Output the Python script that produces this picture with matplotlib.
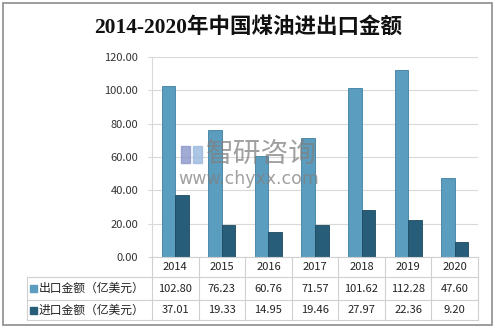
import matplotlib.pyplot as plt
import numpy as np
from matplotlib.patches import Rectangle
from matplotlib.lines import Line2D

plt.rcParams['font.family'] = ['Noto Sans CJK SC', 'DejaVu Sans']

years = ["2014", "2015", "2016", "2017", "2018", "2019", "2020"]
export_vals = [102.80, 76.23, 60.76, 71.57, 101.62, 112.28, 47.60]
import_vals = [37.01, 19.33, 14.95, 19.46, 27.97, 22.36, 9.20]
series_names = ["出口金额（亿美元）", "进口金额（亿美元）"]
y_ticks = [0, 20, 40, 60, 80, 100, 120]

title = "2014-2020年中国煤油进出口金额"
c_export = "#5a9dbf"
c_import = "#275d78"
grid_c = "#d9d9d9"

W, H = 496, 331
fig = plt.figure(figsize=(W / 100, H / 100), dpi=100)

# plot area in pixels
px0, px1, py0, py1 = 152, 478, 57, 257
ax = fig.add_axes([px0 / W, 1 - py1 / H, (px1 - px0) / W, (py1 - py0) / H])
x = np.arange(len(years))
bw = 0.29
ax.bar(x - bw / 2, export_vals, width=bw, color=c_export, edgecolor="#3f7f9f", linewidth=0.6, zorder=3)
ax.bar(x + bw / 2, import_vals, width=bw, color=c_import, edgecolor="#1c4a60", linewidth=0.6, zorder=3)
ax.set_xlim(-0.5, len(years) - 0.5)
ax.set_ylim(0, 120)
ax.set_yticks(y_ticks)
ax.set_yticklabels([f"{v:.2f}" for v in y_ticks], fontsize=8, color="#333333")
ax.set_xticks([])
ax.tick_params(axis="y", length=3, color=grid_c, pad=7)
ax.grid(axis="y", color=grid_c, linewidth=0.8, zorder=0)
for s in ["top", "right", "bottom"]:
    ax.spines[s].set_visible(False)
ax.spines["left"].set_color(grid_c)

# overlay in pixel coordinates for table, border, title, watermark
ov = fig.add_axes([0, 0, 1, 1], zorder=5)
ov.set_xlim(0, W)
ov.set_ylim(H, 0)
ov.axis("off")
ov.patch.set_alpha(0)

ov.add_patch(Rectangle((3, 3), 489, 322, fill=False, edgecolor="#8c8c8c", linewidth=1.2))
ov.text(W / 2, 27, title, ha="center", va="center", fontsize=15.5, fontweight="bold",
        color="#111111", family=["Liberation Serif", "Noto Sans CJK SC"])

# table
tl = 27
rows_y = [257, 277, 300, 320]
colw = (px1 - px0) / len(years)
lc = "#d0d0d0"
ov.add_line(Line2D([px0, px1], [rows_y[0], rows_y[0]], color=lc, lw=0.8))
for yy in rows_y[1:]:
    ov.add_line(Line2D([tl, px1], [yy, yy], color=lc, lw=0.8))
ov.add_line(Line2D([tl, tl], [rows_y[1], rows_y[3]], color=lc, lw=0.8))
for i in range(len(years) + 1):
    xx = px0 + i * colw
    ov.add_line(Line2D([xx, xx], [rows_y[0], rows_y[3]], color=lc, lw=0.8))
for i, yr in enumerate(years):
    cx = px0 + (i + 0.5) * colw
    ov.text(cx, (rows_y[0] + rows_y[1]) / 2, yr, ha="center", va="center", fontsize=8, color="#222222")
    ov.text(cx, (rows_y[1] + rows_y[2]) / 2, f"{export_vals[i]:.2f}", ha="center", va="center", fontsize=8, color="#222222")
    ov.text(cx, (rows_y[2] + rows_y[3]) / 2, f"{import_vals[i]:.2f}", ha="center", va="center", fontsize=8, color="#222222")
for r, (name, c) in enumerate(zip(series_names, [c_export, c_import])):
    yc = (rows_y[r + 1] + rows_y[r + 2]) / 2
    ov.add_patch(Rectangle((30, yc - 3.5), 7, 7, color=c))
    ov.text(39, yc, name, ha="left", va="center", fontsize=8.5, color="#222222")

# watermark
ov.add_patch(Rectangle((181, 146), 9, 17, color="#8a96c8", alpha=0.8))
ov.add_patch(Rectangle((193, 146), 9, 17, color="#9ab8e0", alpha=0.8))
ov.text(206, 154, "智研咨询", ha="left", va="center", fontsize=20, color="#808080", alpha=0.75)
ov.text(178, 179, "www.chyxx.com", ha="left", va="center", fontsize=12.5, color="#808080", alpha=0.75,
        family="DejaVu Sans")

fig.savefig("out.png", dpi=100)
